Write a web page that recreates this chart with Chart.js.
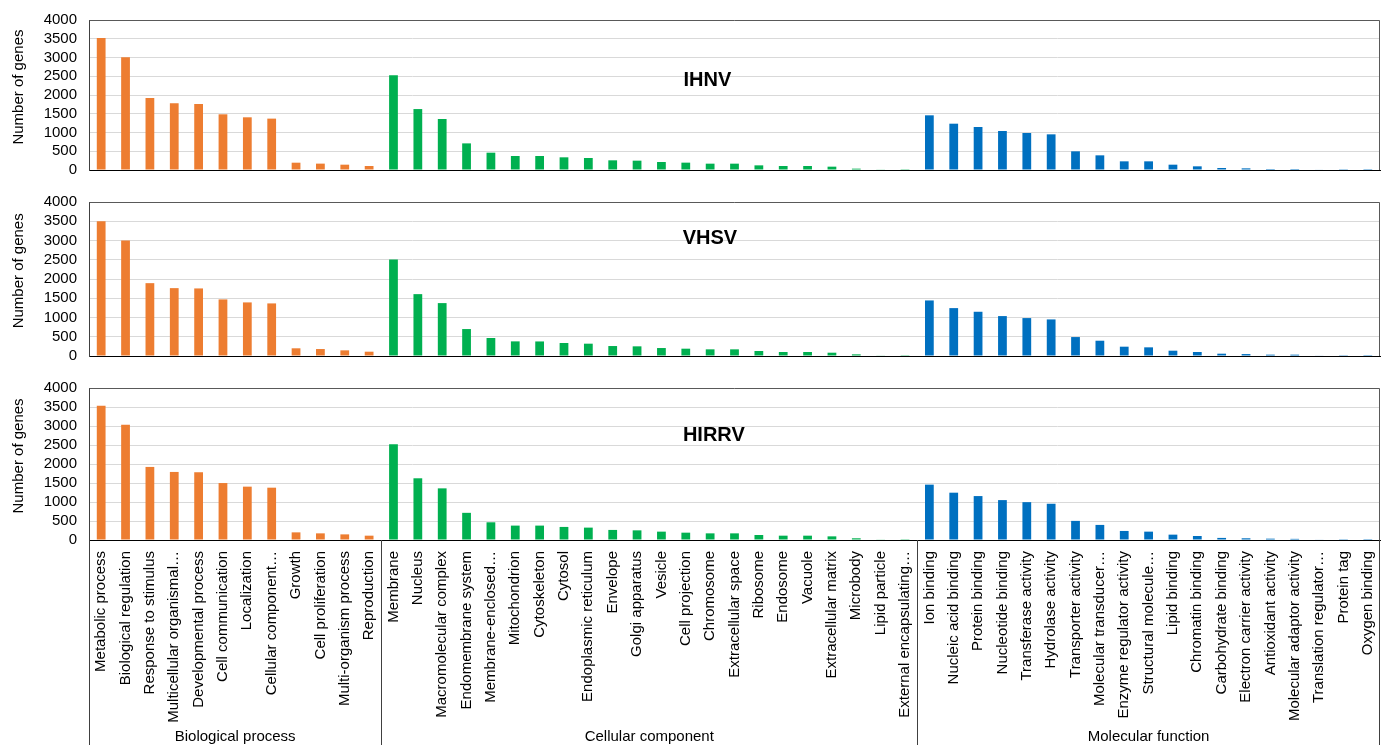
<!DOCTYPE html>
<html>
<head>
<meta charset="utf-8">
<script src="https://cdn.jsdelivr.net/npm/chart.js@4"></script>
<style>
  html, body { margin: 0; padding: 0; background: #ffffff; }
  body { width: 1387px; height: 745px; position: relative; overflow: hidden; }
  .panel { position: absolute; left: 0; width: 1387px; }
</style>
</head>
<body>
<div class="panel" style="top:0px;height:185px"><canvas id="panel0"></canvas></div>
<div class="panel" style="top:185px;height:185px"><canvas id="panel1"></canvas></div>
<div class="panel" style="top:370px;height:375px"><canvas id="panel2"></canvas></div>
<script>
// GO categories, in display order
const bioProcess = [
  'Metabolic process', 'Biological regulation', 'Response to stimulus',
  'Multicellular organismal…', 'Developmental process', 'Cell communication',
  'Localization', 'Cellular component…', 'Growth', 'Cell proliferation',
  'Multi-organism process', 'Reproduction'
];
const cellComponent = [
  'Membrane', 'Nucleus', 'Macromolecular complex', 'Endomembrane system',
  'Membrane-enclosed…', 'Mitochondrion', 'Cytoskeleton', 'Cytosol',
  'Endoplasmic reticulum', 'Envelope', 'Golgi apparatus', 'Vesicle',
  'Cell projection', 'Chromosome', 'Extracellular space', 'Ribosome',
  'Endosome', 'Vacuole', 'Extracellular matrix', 'Microbody',
  'Lipid particle', 'External encapsulating…'
];
const molFunction = [
  'Ion binding', 'Nucleic acid binding', 'Protein binding', 'Nucleotide binding',
  'Transferase activity', 'Hydrolase activity', 'Transporter activity',
  'Molecular transducer…', 'Enzyme regulator activity', 'Structural molecule…',
  'Lipid binding', 'Chromatin binding', 'Carbohydrate binding',
  'Electron carrier activity', 'Antioxidant activity', 'Molecular adaptor activity',
  'Translation regulator…', 'Protein tag', 'Oxygen binding'
];
const groupNames = ['Biological process', 'Cellular component', 'Molecular function'];

// Number of genes per category for each virus
const ihnvCounts = [
  3520, 3010, 1920, 1780, 1760, 1485, 1405, 1370, 195, 170, 142, 107,
  2525, 1625, 1360, 710, 462, 373, 373, 338, 320, 258, 249, 213, 196, 169, 169, 124, 107, 107, 89, 36, 10, 5,
  1458, 1235, 1147, 1040, 987, 951, 498, 391, 231, 231, 142, 98, 53, 44, 27, 27, 15, 5, 3
];
const vhsvCounts = [
  3500, 2999, 1892, 1763, 1755, 1470, 1392, 1366, 200, 181, 147, 112,
  2507, 1607, 1374, 700, 467, 380, 378, 337, 320, 259, 251, 207, 190, 173, 173, 130, 104, 104, 86, 43, 10, 5,
  1443, 1244, 1149, 1037, 985, 950, 492, 397, 242, 225, 138, 104, 60, 50, 35, 35, 15, 5, 3
];
const hirrvCounts = [
  3531, 3036, 1923, 1791, 1783, 1499, 1404, 1377, 201, 175, 148, 114,
  2517, 1624, 1359, 715, 466, 379, 379, 344, 326, 265, 254, 220, 193, 175, 175, 132, 114, 114, 96, 45, 10, 5,
  1457, 1245, 1156, 1050, 996, 954, 503, 397, 238, 220, 141, 106, 55, 45, 35, 30, 15, 5, 3
];
const virusNames = ['IHNV', 'VHSV', 'HIRRV'];
const yAxisTitle = 'Number of genes';
const yTickMax = 4000;
const yTickStep = 500;

// ---- derived tables ----
const groups = [bioProcess, cellComponent, molFunction];
const categories = [].concat(bioProcess, cellComponent, molFunction);
const groupColors = ['#ED7D31', '#00B050', '#0070C0'];
const barColors = [];
groups.forEach((g, gi) => g.forEach(() => barColors.push(groupColors[gi])));
const seriesList = [ihnvCounts, vhsvCounts, hirrvCounts];

const FONT = "'Liberation Sans', Arial, sans-serif";
const FONT_SIZE = 15;

// layout of each panel: top padding of the plot, height of the category axis box,
// and where the virus name sits inside the plot area (fractions)
const panelLayout = [
  { padTop: 20, xHeight: 15, nameX: 0.479, nameY: 0.40, labels: false },
  { padTop: 17, xHeight: 14, nameX: 0.481, nameY: 0.235, labels: false },
  { padTop: 18, xHeight: 205, nameX: 0.484, nameY: 0.31, labels: true }
];

// frame around the plot area, virus name and vertical axis title
const framePlugin = {
  id: 'frame',
  afterDraw(chart, args, opts) {
    const { ctx, chartArea: a } = chart;
    ctx.save();
    ctx.strokeStyle = '#595959';
    ctx.lineWidth = 1;
    ctx.beginPath();
    ctx.moveTo(a.left + 0.5, a.top + 0.5);
    ctx.lineTo(a.right - 0.5, a.top + 0.5);
    ctx.lineTo(a.right - 0.5, a.bottom);
    ctx.stroke();

    ctx.fillStyle = '#000';
    ctx.font = 'bold 20px ' + FONT;
    ctx.textAlign = 'center';
    ctx.textBaseline = 'middle';
    ctx.fillText(opts.name, a.left + opts.nameX * (a.right - a.left), a.top + opts.nameY * (a.bottom - a.top));

    ctx.font = FONT_SIZE + 'px ' + FONT;
    ctx.translate(19, a.top + 0.447 * (a.bottom - a.top));
    ctx.rotate(-Math.PI / 2);
    ctx.fillText(yAxisTitle, 0, 0);
    ctx.restore();
  }
};

// group brackets under the category labels
const groupPlugin = {
  id: 'groups',
  afterDraw(chart, args, opts) {
    if (!opts.enabled) return;
    const { ctx, chartArea: a } = chart;
    const xs = chart.scales.x;
    const bottom = chart.height;
    const bounds = [xs.left];
    let idx = 0;
    groups.forEach((g, gi) => {
      idx += g.length;
      if (gi < groups.length - 1) {
        bounds.push((xs.getPixelForTick(idx - 1) + xs.getPixelForTick(idx)) / 2);
      }
    });
    bounds.push(xs.right);
    ctx.save();
    ctx.strokeStyle = '#404040';
    ctx.lineWidth = 1;
    bounds.forEach((b, i) => {
      const x = i === bounds.length - 1 ? Math.round(b) - 0.5 : Math.round(b) + 0.5;
      ctx.beginPath();
      ctx.moveTo(x, a.bottom);
      ctx.lineTo(x, bottom);
      ctx.stroke();
    });
    ctx.fillStyle = '#000';
    ctx.font = FONT_SIZE + 'px ' + FONT;
    ctx.textAlign = 'center';
    ctx.textBaseline = 'middle';
    groupNames.forEach((n, i) => {
      ctx.fillText(n, (bounds[i] + bounds[i + 1]) / 2, bottom - 8);
    });
    ctx.restore();
  }
};

seriesList.forEach((series, p) => {
  const L = panelLayout[p];
  new Chart(document.getElementById('panel' + p), {
    type: 'bar',
    data: {
      labels: categories,
      datasets: [{
        label: virusNames[p],
        data: series,
        backgroundColor: barColors,
        borderWidth: 0,
        barPercentage: 0.36,
        categoryPercentage: 1.0
      }]
    },
    options: {
      responsive: true,
      maintainAspectRatio: false,
      animation: false,
      layout: { padding: { top: L.padTop, right: 7, left: 0, bottom: 0 } },
      plugins: {
        legend: { display: false },
        tooltip: { enabled: false },
        frame: { name: virusNames[p], nameX: L.nameX, nameY: L.nameY },
        groups: { enabled: L.labels }
      },
      scales: {
        x: {
          grid: { display: false },
          border: { display: true, color: '#000', width: 1 },
          ticks: {
            display: L.labels,
            autoSkip: false,
            maxRotation: 90,
            minRotation: 90,
            padding: 3,
            color: '#000',
            font: { family: FONT, size: FONT_SIZE }
          },
          afterFit(scale) {
            scale.height = L.xHeight;
            scale.paddingLeft = 0;
            scale.paddingRight = 0;
          }
        },
        y: {
          min: 0,
          max: yTickMax,
          ticks: {
            stepSize: yTickStep,
            autoSkip: false,
            padding: 12,
            color: '#000',
            font: { family: FONT, size: FONT_SIZE },
            callback: (v) => String(v)
          },
          grid: { color: '#D9D9D9', lineWidth: 1, drawTicks: false },
          border: { display: true, color: '#404040', width: 1 },
          title: { display: false },
          afterFit(scale) {
            scale.width = 89;
            scale.paddingTop = 0;
            scale.paddingBottom = 0;
          }
        }
      }
    },
    plugins: [framePlugin, groupPlugin]
  });
});
</script>
</body>
</html>
